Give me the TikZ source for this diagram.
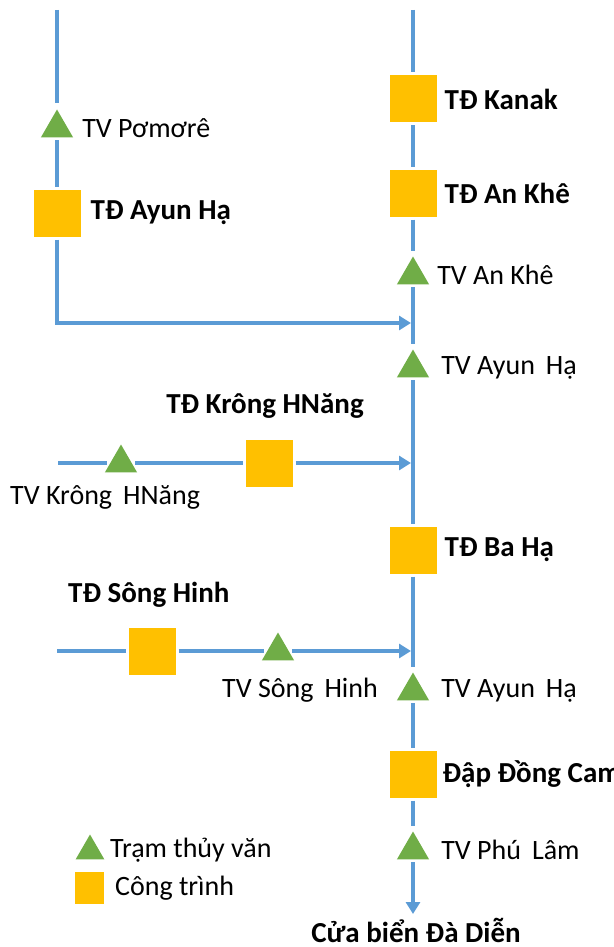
\documentclass[tikz,border=0pt]{standalone}
\usepackage{fontspec}
\setmainfont{Carlito}
\usetikzlibrary{arrows.meta,positioning,shapes.geometric}
\definecolor{rvblue}{RGB}{91,155,213}
\definecolor{rvdam}{RGB}{255,192,0}
\definecolor{rvgauge}{RGB}{112,173,71}
\tikzset{
  dam/.style={fill=rvdam, minimum size=47pt, inner sep=0pt, outer sep=3pt},
  gauge/.style={
    regular polygon, regular polygon sides=3, fill=rvgauge,
    minimum size=37pt, inner sep=0pt, outer sep=3pt
  },
  riv/.style={draw=rvblue, line width=3.5pt},
  flow/.style={riv, -{Triangle[length=12pt,width=14pt]}},
  lbl/.style={font=\fontsize{28}{31}\selectfont, inner sep=0pt},
  blbl/.style={font=\fontsize{29}{32}\selectfont\bfseries, inner sep=0pt},
  legtri/.style={gauge, minimum size=33pt, outer sep=0pt},
  legdam/.style={fill=rvdam, minimum width=29pt, minimum height=32pt, inner sep=0pt}
}

\begin{document}
\begin{tikzpicture}[x=1pt, y=-1pt]
  \useasboundingbox (0,0) rectangle (613,947);
  % main river
  \coordinate (msrc) at (413,10);
  \node[dam] (kanak) at (413,99) {};
  \node[dam] (ankhe) at (413,193) {};
  \node[gauge] (tvankhe) at (413,275) {};
  \coordinate (j1) at (413,323);
  \node[gauge] (tvayun) at (413,368) {};
  \node[dam] (baha) at (413,550) {};
  \node[gauge] (tvayunb) at (413,691) {};
  \node[dam] (dongcam) at (413,774) {};
  \node[gauge] (tvphulam) at (413,850) {};
  \coordinate (mouth) at (413,914);
  % Ayun branch
  \coordinate (asrc) at (57,10);
  \node[gauge] (tvpomore) at (57,128) {};
  \node[dam] (ayunha) at (57,213) {};
  % Krong HNang branch
  \coordinate (ksrc) at (58,463);
  \node[gauge] (tvkrong) at (121,463) {};
  \node[dam] (tdkrong) at (269,463) {};
  \coordinate (kend) at (411,463);
  % Song Hinh branch
  \coordinate (hsrc) at (57,651);
  \node[dam] (tdhinh) at (152,651) {};
  \node[gauge] (tvhinh) at (278,651) {};
  \coordinate (hend) at (411,651);

  \draw[riv] (msrc) -- (kanak);
  \draw[riv] (kanak) -- (ankhe);
  \draw[riv] (ankhe) -- (tvankhe);
  \draw[riv] (tvankhe) -- (tvayun);
  \draw[riv] (tvayun) -- (baha);
  \draw[riv] (baha) -- (tvayunb);
  \draw[riv] (tvayunb) -- (dongcam);
  \draw[riv] (dongcam) -- (tvphulam);
  \draw[flow] (tvphulam) -- (mouth);
  \draw[riv] (asrc) -- (tvpomore);
  \draw[riv] (tvpomore) -- (ayunha);
  \draw[flow] (ayunha) |- ([xshift=-2pt]j1);
  \draw[riv] (ksrc) -- (tvkrong);
  \draw[riv] (tvkrong) -- (tdkrong);
  \draw[flow] (tdkrong) -- (kend);
  \draw[riv] (hsrc) -- (tdhinh);
  \draw[riv] (tdhinh) -- (tvhinh);
  \draw[flow] (tvhinh) -- (hend);

  % labels
  \node[blbl, right=5pt of kanak] (lkanak) {TĐ Kanak};
  \node[blbl, right=5pt of ankhe] (lankhe) {TĐ An Khê};
  \node[lbl, right=10pt of tvankhe] (ltvankhe) {TV An Khê};
  \node[lbl, right=14pt of tvayun] (ltvayun) {TV Ayun\ \,Hạ};
  \node[blbl, right=5pt of baha] (lbaha) {TĐ Ba Hạ};
  \node[lbl, right=14pt of tvayunb] (ltvayunb) {TV Ayun\ \,Hạ};
  \node[blbl, right=3pt of dongcam] (ldongcam) {Đập Đồng Cam};
  \node[lbl, right=14pt of tvphulam] (ltvphulam) {TV Phú\ \,Lâm};
  \node[blbl, anchor=base] (lmouth) at (416,942) {Cửa biển Đà Diễn};
  \node[lbl, right=11pt of tvpomore] (ltvpomore) {TV Pơmơrê};
  \node[blbl, right=7pt of ayunha] (layunha) {TĐ Ayun Hạ};
  \node[blbl] (ltdkrong) at (265,406) {TĐ Krông HNăng};
  \node[lbl, anchor=west] (ltvkrong) at (10,497) {TV Krông\ \,HNăng};
  \node[blbl, anchor=west] (ltdhinh) at (68,595) {TĐ Sông Hinh};
  \node[lbl, anchor=west] (ltvhinh) at (222,690) {TV Sông\ \,Hinh};

  % legend
  \node[legtri] (kgauge) at (90,851) {};
  \node[legdam] (kdam) at (89,888) {};
  \node[lbl, anchor=west] (lkgauge) at (110,850) {Trạm thủy văn};
  \node[lbl, anchor=west] (lkdam) at (115,888) {Công trình};
\end{tikzpicture}
\end{document}
